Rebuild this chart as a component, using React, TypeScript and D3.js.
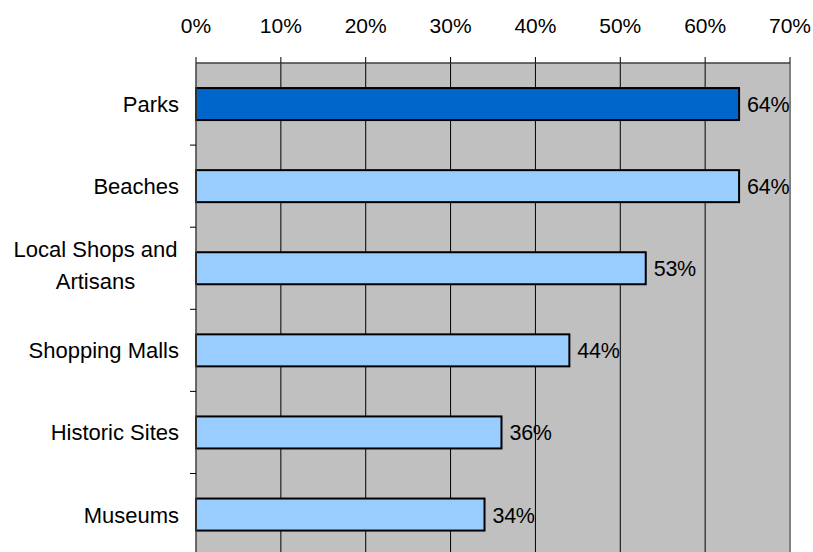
import React, { useEffect, useRef } from 'react';
import * as d3 from 'd3';

const categories = ['Parks', 'Beaches', 'Local Shops and|Artisans', 'Shopping Malls', 'Historic Sites', 'Museums'];
const values = [64, 64, 53, 44, 36, 34];
const highlighted = ['Parks'];
const xTicks = [0, 10, 20, 30, 40, 50, 60, 70];

const App: React.FC = () => {
  const svgRef = useRef<SVGSVGElement>(null);

  useEffect(() => {
    if (!svgRef.current) return;
    const svg = d3.select(svgRef.current);
    svg.selectAll('*').remove();

    const left = 196;
    const right = 790;
    const top = 63;
    const bottom = 555.6;
    const font = '"Liberation Sans", Arial, sans-serif';

    const x = d3.scaleLinear().domain([0, 70]).range([left, right]);
    const y = d3.scaleBand<string>()
      .domain(categories)
      .range([top, bottom])
      .paddingInner(0.61)
      .paddingOuter(0.305);
    const step = y.step();

    // plot background
    svg.append('rect')
      .attr('x', left).attr('y', top)
      .attr('width', right - left).attr('height', bottom - top)
      .attr('fill', '#C0C0C0');

    // vertical grid lines
    svg.append('g')
      .selectAll('line')
      .data(xTicks.slice(1, -1))
      .enter()
      .append('line')
      .attr('x1', d => x(d)).attr('x2', d => x(d))
      .attr('y1', top).attr('y2', bottom)
      .attr('stroke', '#000').attr('stroke-width', 1);

    // right border
    svg.append('line')
      .attr('x1', right).attr('x2', right)
      .attr('y1', top).attr('y2', bottom)
      .attr('stroke', '#808080').attr('stroke-width', 2);

    // bars
    svg.append('g')
      .selectAll('rect')
      .data(categories)
      .enter()
      .append('rect')
      .attr('x', x(0))
      .attr('y', d => y(d)!)
      .attr('width', (d, i) => x(values[i]) - x(0))
      .attr('height', y.bandwidth())
      .attr('fill', d => highlighted.includes(d) ? '#0066CC' : '#99CCFF')
      .attr('stroke', '#000')
      .attr('stroke-width', 2);

    // value labels
    svg.append('g')
      .selectAll('text')
      .data(categories)
      .enter()
      .append('text')
      .attr('x', (d, i) => x(values[i]) + 8)
      .attr('y', d => y(d)! + y.bandwidth() / 2 + 8)
      .attr('font-family', font)
      .attr('font-size', '21.5px')
      .attr('letter-spacing', '-0.3px')
      .attr('fill', '#000')
      .text((d, i) => `${values[i]}%`);

    // top axis
    svg.append('line')
      .attr('x1', left).attr('x2', right)
      .attr('y1', top).attr('y2', top)
      .attr('stroke', '#404040').attr('stroke-width', 1.5);
    svg.append('g')
      .selectAll('line')
      .data(xTicks)
      .enter()
      .append('line')
      .attr('x1', d => x(d)).attr('x2', d => x(d))
      .attr('y1', top - 6).attr('y2', top)
      .attr('stroke', '#000').attr('stroke-width', 1);
    svg.append('g')
      .selectAll('text')
      .data(xTicks)
      .enter()
      .append('text')
      .attr('x', d => x(d))
      .attr('y', 33)
      .attr('text-anchor', 'middle')
      .attr('font-family', font)
      .attr('font-size', '21px')
      .text(d => `${d}%`);

    // left axis
    svg.append('line')
      .attr('x1', left).attr('x2', left)
      .attr('y1', top).attr('y2', bottom)
      .attr('stroke', '#404040').attr('stroke-width', 1.5);
    svg.append('g')
      .selectAll('line')
      .data(d3.range(1, categories.length))
      .enter()
      .append('line')
      .attr('x1', left - 6).attr('x2', left)
      .attr('y1', i => top + i * step).attr('y2', i => top + i * step)
      .attr('stroke', '#000').attr('stroke-width', 1);

    // category labels
    const labels = svg.append('g')
      .selectAll('text')
      .data(categories)
      .enter()
      .append('text')
      .attr('font-family', font)
      .attr('font-size', '22px')
      .attr('fill', '#000');

    labels.each(function (d) {
      const t = d3.select(this);
      const lines = d.split('|');
      const cy = y(d)! + y.bandwidth() / 2;
      if (lines.length === 1) {
        t.attr('x', 179).attr('y', cy + 8).attr('text-anchor', 'end').text(d);
      } else {
        t.attr('text-anchor', 'middle');
        lines.forEach((line, k) => {
          t.append('tspan')
            .attr('x', 95.5)
            .attr('y', cy - 11 + k * 32)
            .text(line);
        });
      }
    });
  }, []);

  return (
    <svg
      ref={svgRef}
      width={813}
      height={552}
      style={{ position: 'absolute', left: 0, top: 0, background: '#fff' }}
    />
  );
};

export default App;
